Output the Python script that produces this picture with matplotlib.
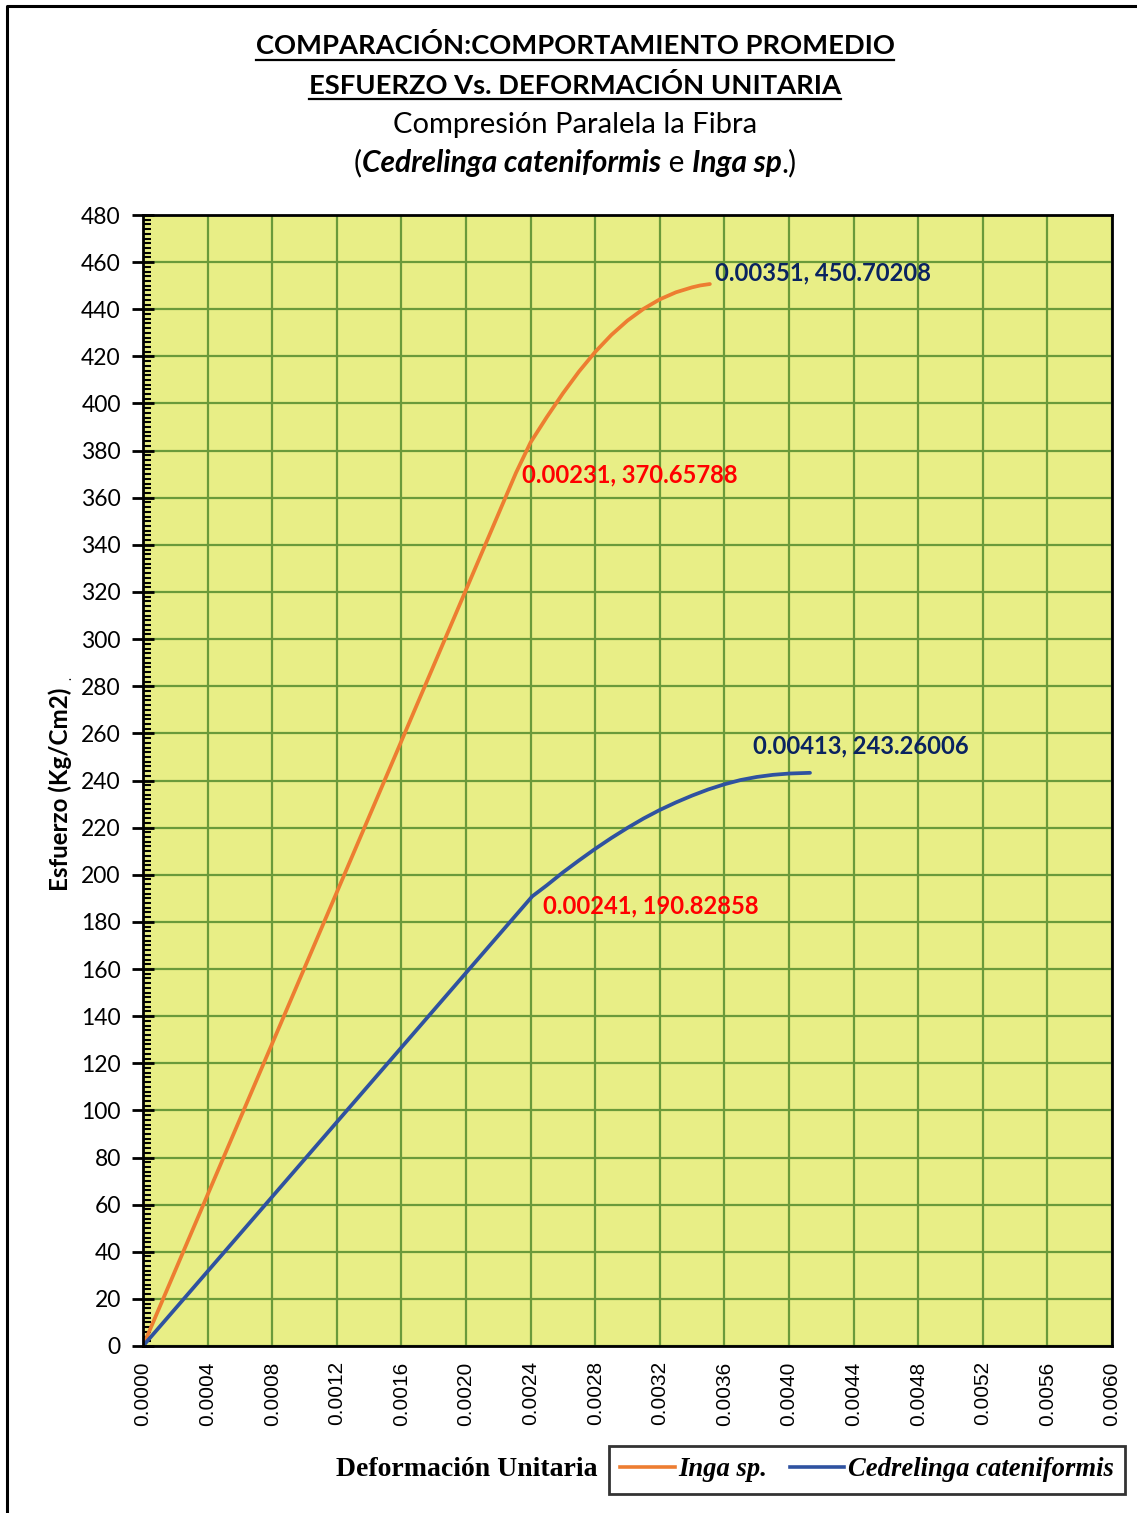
import numpy as np
import matplotlib
matplotlib.use("Agg")
import matplotlib.pyplot as plt
from matplotlib.lines import Line2D
from matplotlib.ticker import MultipleLocator, FormatStrFormatter

# Average stress-strain curves (strain, stress in kg/cm2)
inga_strain = [0.0, 0.00231, 0.0024, 0.0025, 0.0026, 0.0027, 0.0028, 0.0029,
               0.0030, 0.0031, 0.0032, 0.0033, 0.0034, 0.00345, 0.00351]
inga_stress = [0.0, 370.65788, 383.5, 394.2, 404.3, 413.6, 421.9, 429.1,
               435.2, 440.2, 444.2, 447.2, 449.3, 450.1, 450.70208]

cedr_strain = [0.0, 0.00241, 0.0025, 0.0026, 0.0027, 0.0028, 0.0029, 0.0030,
               0.0031, 0.0032, 0.0033, 0.0034, 0.0035, 0.0036, 0.0037, 0.0038,
               0.0039, 0.0040, 0.00413]
cedr_stress = [0.0, 190.82858, 195.5, 201.0, 206.1, 211.0, 215.6, 219.9,
               223.9, 227.5, 230.7, 233.6, 236.2, 238.4, 240.2, 241.5,
               242.4, 242.95, 243.26006]

series_names = ["Inga sp.", "Cedrelinga cateniformis"]

# Labelled points: (series index, point index)
labelled = [(0, 1), (0, -1), (1, 1), (1, -1)]

W, H = 1137, 1513
fig = plt.figure(figsize=(W / 100, H / 100), dpi=100)
fig.patch.set_facecolor("white")


def fx(x):
    return x / W


def fy(y):
    return 1 - y / H


ax = fig.add_axes([fx(143), fy(1346), (1112 - 143) / W, (1346 - 215) / H])
ax.set_facecolor("#E8EE86")

c_inga = "#ED7D31"
c_cedr = "#2F52A0"
for xs, ys, c in [(inga_strain, inga_stress, c_inga), (cedr_strain, cedr_stress, c_cedr)]:
    ax.plot(xs, ys, color=c, lw=2.7, solid_capstyle="round",
            solid_joinstyle="round", zorder=3)

ax.set_xlim(0, 0.006)
ax.set_ylim(0, 480)
ax.xaxis.set_major_locator(MultipleLocator(0.0004))
ax.xaxis.set_major_formatter(FormatStrFormatter("%.4f"))
ax.yaxis.set_major_locator(MultipleLocator(20))
ax.yaxis.set_minor_locator(MultipleLocator(2))
ax.grid(True, which="major", color="#6A9A3A", lw=1.6, zorder=1)
ax.set_axisbelow(True)

for sp in ax.spines.values():
    sp.set_linewidth(2)
    sp.set_color("black")
    sp.set_zorder(4)

ax.tick_params(axis="y", which="major", direction="inout", length=16, width=2,
               pad=8, labelsize=16.5)
ax.tick_params(axis="y", which="minor", direction="in", length=6, width=1.5)
ax.tick_params(axis="x", which="major", length=0, pad=11, labelsize=15,
               labelrotation=90)
for lab in ax.get_yticklabels():
    lab.set_family("Lato")
for lab in ax.get_xticklabels():
    lab.set_family("Liberation Sans")

# Point labels
navy = "#0A2360"
red = "#FF0000"
curves = [(inga_strain, inga_stress), (cedr_strain, cedr_stress)]
offsets = {(0, 1): (6, -2, red), (0, -1): (5, 11, navy),
           (1, 1): (11, -10, red), (1, -1): (-57, 27, navy)}
for key in labelled:
    s, i = key
    xs, ys = curves[s]
    dx, dy, col = offsets[key]
    ax.annotate(f"{xs[i]:.5f}, {ys[i]:.5f}", (xs[i], ys[i]),
                xytext=(dx * 0.72, dy * 0.72), textcoords="offset points",
                ha="left", va="center", fontsize=17.1, fontweight="bold",
                family="Lato", color=col, zorder=5)

# Axis titles
fig.text(fx(60), fy(789), "Esfuerzo (Kg/Cm2)", rotation=90, ha="center",
         va="center", fontsize=17.4, fontweight="bold", family="Lato")
fig.text(fx(67), fy(678), ".", rotation=90, ha="center", va="center",
         fontsize=9, family="Lato")
fig.text(fx(467), fy(1469), "Deformación Unitaria", ha="center", va="center",
         fontsize=20, fontweight="bold", family="Liberation Serif")

# Legend
handles = [Line2D([], [], color=c_inga, lw=2.6),
           Line2D([], [], color=c_cedr, lw=2.6)]
leg = fig.legend(handles, series_names, loc="center",
                 bbox_to_anchor=(fx(867), fy(1470)), ncol=2, frameon=True,
                 fancybox=False, handlelength=2.05, handletextpad=0.15,
                 columnspacing=0.83, borderpad=0.42, borderaxespad=0,
                 prop={"family": "Liberation Serif", "weight": "bold",
                       "style": "italic", "size": 19.2})
leg.get_frame().set_edgecolor("black")
leg.get_frame().set_linewidth(2)

# Title block
fig.canvas.draw()
renderer = fig.canvas.get_renderer()


def underlined(text, y, size):
    t = fig.text(fx(575), fy(y), text, ha="center", va="center",
                 fontsize=size, fontweight="bold", family="Lato")
    bb = t.get_window_extent(renderer)
    fig.add_artist(Line2D([bb.x0 / W, bb.x1 / W],
                          [(bb.y0 - 1) / H, (bb.y0 - 1) / H],
                          transform=fig.transFigure, color="black", lw=1.6))


underlined("COMPARACIÓN:COMPORTAMIENTO PROMEDIO", 46, 19.7)
underlined("ESFUERZO Vs. DEFORMACIÓN UNITARIA", 85, 19.7)
fig.text(fx(575), fy(125), "Compresión Paralela la Fibra", ha="center",
         va="center", fontsize=21, family="Lato")

pieces = [("(", {}), ("Cedrelinga cateniformis", {"weight": "bold", "style": "italic"}),
          (" e ", {}), ("Inga sp", {"weight": "bold", "style": "italic"}),
          (".)", {})]
objs = []
for s, kw in pieces:
    objs.append(fig.text(0, fy(163), s, ha="left", va="center", fontsize=21.5,
                         family="Lato", **kw))
widths = [o.get_window_extent(renderer).width for o in objs]
x = 575 - sum(widths) / 2
for o, w in zip(objs, widths):
    o.set_x(x / W)
    x += w

# Outer frame
fig.add_artist(Line2D([fx(7), fx(7), 1.0], [0.0, fy(6), fy(6)],
                      transform=fig.transFigure, color="black", lw=2.2))

fig.savefig("out.png", dpi=100)
